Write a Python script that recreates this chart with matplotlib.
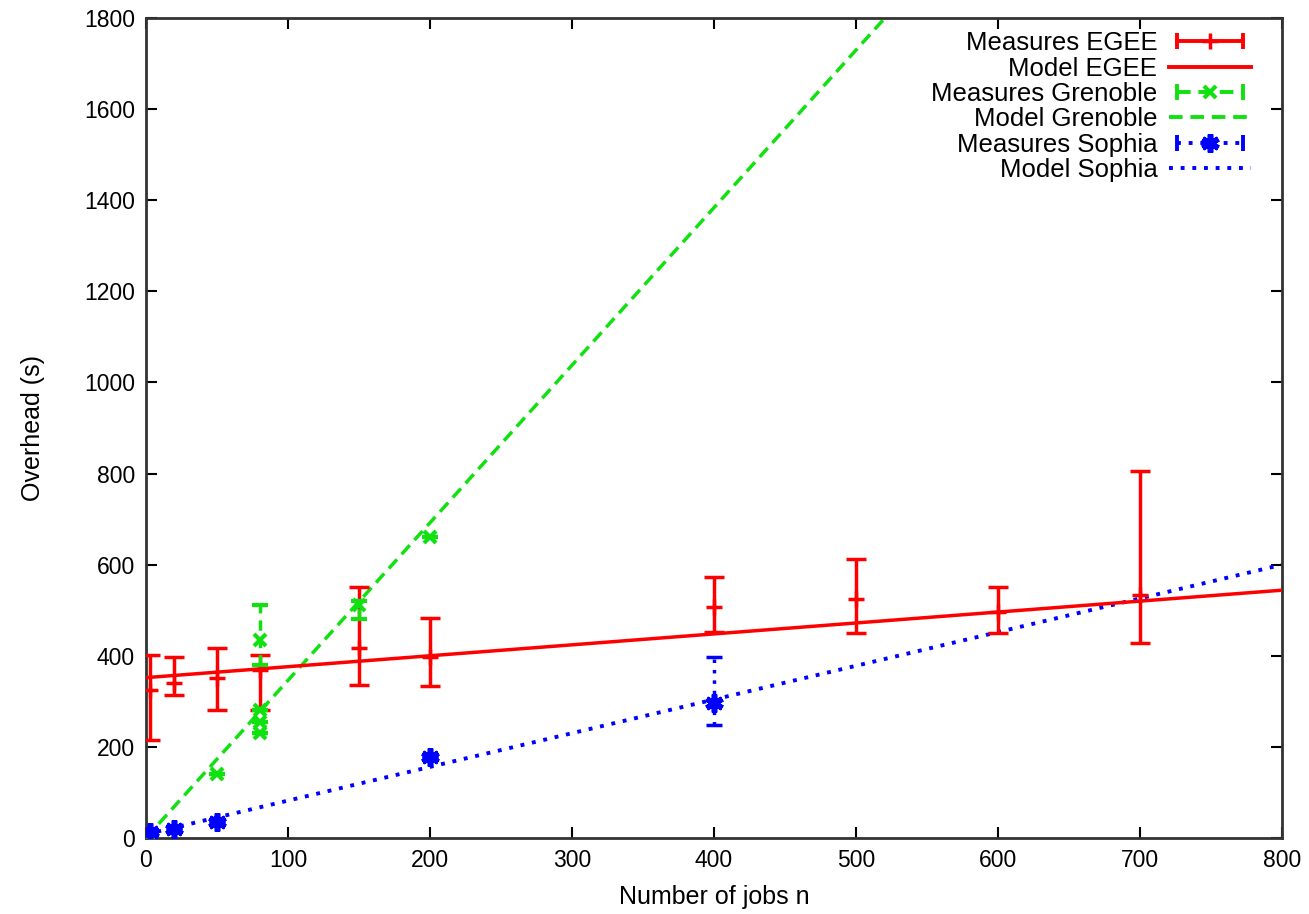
import numpy as np
import matplotlib.pyplot as plt
from matplotlib.lines import Line2D
from matplotlib.legend_handler import HandlerLine2D, HandlerTuple

plt.rcParams['font.family'] = ['Liberation Sans', 'DejaVu Sans']
plt.rcParams['font.size'] = 18

# Measures EGEE (value, lower end and upper end of the error bar)
egee_x = [3, 20, 50, 80, 150, 200, 400, 500, 600, 700]
egee_y = [325, 340, 351, 368, 417, 397, 507, 525, 496, 533]
egee_lo = [215, 314, 281, 280, 336, 334, 452, 450, 450, 428]
egee_hi = [402, 398, 417, 402, 551, 483, 573, 612, 551, 805]

# Measures Grenoble
gren_x = [3, 50, 80, 80, 80, 80, 150, 200]
gren_y = [5, 140, 435, 282, 255, 230, 511, 660]
gren_lo = [5, 140, 380, 282, 255, 230, 480, 660]
gren_hi = [5, 140, 511, 282, 255, 230, 520, 660]

# Measures Sophia
soph_x = [3, 20, 50, 200, 400]
soph_y = [13, 20, 35, 178, 296]
soph_lo = [13, 20, 35, 178, 248]
soph_hi = [13, 20, 35, 178, 397]

# Models (end points of straight lines)
model_x = [0, 800]
egee_model = [352, 544]
gren_model = [0, 2768]
soph_model = [8, 600]

red = '#ff0000'
green = '#11e011'
blue = '#0000ff'
dash = (3.5, 2)
dot = (1, 2)
star = (6, 2, 0)

fig = plt.figure(figsize=(13.09, 9.14), dpi=100)
ax = fig.add_axes([0.1115, 0.0832, 0.868, 0.897])


def errs(y, lo, hi):
    y = np.array(y)
    return [y - np.array(lo), np.array(hi) - y]


ax.errorbar(egee_x, egee_y, yerr=errs(egee_y, egee_lo, egee_hi), fmt='+',
            color=red, ms=12, mew=2.5, elinewidth=2.5, capsize=7, capthick=2.5,
            zorder=3)
ax.plot(model_x, egee_model, '-', color=red, lw=2.5, zorder=3)

e2 = ax.errorbar(gren_x, gren_y, yerr=errs(gren_y, gren_lo, gren_hi), fmt='x',
                 color=green, ms=9, mew=3, elinewidth=2.5, capsize=6, capthick=2.5,
                 zorder=4)
e2[2][0].set_linestyle((0, (3, 2)))
ax.plot(model_x, gren_model, color=green, lw=2.5, dashes=dash, zorder=2)

e3 = ax.errorbar(soph_x, soph_y, yerr=errs(soph_y, soph_lo, soph_hi),
                 fmt='none', ecolor=blue, elinewidth=2.5, capsize=6, capthick=2.5,
                 zorder=4)
e3[2][0].set_linestyle((0, (1, 2)))
ax.plot(soph_x, soph_y, linestyle='none', marker=star, color=blue,
        ms=13, mew=4, zorder=5)
ax.plot(model_x, soph_model, color=blue, lw=2.8, dashes=dot, zorder=2)

# legend samples drawn gnuplot style: line with caps at both ends, mark in middle
hmap = {}


def measure_handle(color, ls, marker, ms, mew):
    if ls is None:
        caps = Line2D([], [], color=color, lw=2.8, marker='|', ms=11, mew=2.8)
    else:
        caps = Line2D([], [], color=color, lw=2.8, dashes=ls, marker='|',
                      ms=11, mew=2.8)
    mid = Line2D([], [], color=color, linestyle='none', marker=marker, ms=ms,
                 mew=mew)
    hmap[caps] = HandlerLine2D(numpoints=2)
    hmap[mid] = HandlerLine2D(numpoints=1)
    return (caps, mid)


h_egee = measure_handle(red, None, '+', 12, 2.5)
h_gren = measure_handle(green, dash, 'x', 9, 3)
h_soph = measure_handle(blue, dot, star, 13, 4)
m_egee = Line2D([], [], color=red, lw=2.8)
m_gren = Line2D([], [], color=green, lw=2.8, dashes=dash)
m_soph = Line2D([], [], color=blue, lw=2.8, dashes=dot)
for h in (h_egee, h_gren, h_soph):
    hmap[h] = HandlerTuple(ndivide=1, pad=0)

labels = ['Measures EGEE', 'Model EGEE', 'Measures Grenoble', 'Model Grenoble',
          'Measures Sophia', 'Model Sophia']
ax.legend([h_egee, m_egee, h_gren, m_gren, h_soph, m_soph], labels,
          handler_map=hmap, loc='upper right', frameon=False, markerfirst=False,
          handlelength=3.2, labelspacing=0.05, handletextpad=0.45,
          fontsize=18.5, bbox_to_anchor=(0.993, 1.012))

ax.set_xlim(0, 800)
ax.set_ylim(0, 1800)
ax.set_xticks(np.arange(0, 801, 100))
ax.set_yticks(np.arange(0, 1801, 200))
ax.tick_params(direction='in', length=8, width=1.5, top=True, right=True,
               labelsize=16.5, pad=8)
for s in ax.spines.values():
    s.set_linewidth(2)
    s.set_color('#333333')
ax.set_xlabel('Number of jobs n', fontsize=18, labelpad=9)
ax.set_ylabel('Overhead (s)', fontsize=18, labelpad=28)

fig.savefig('out.png', dpi=100)
